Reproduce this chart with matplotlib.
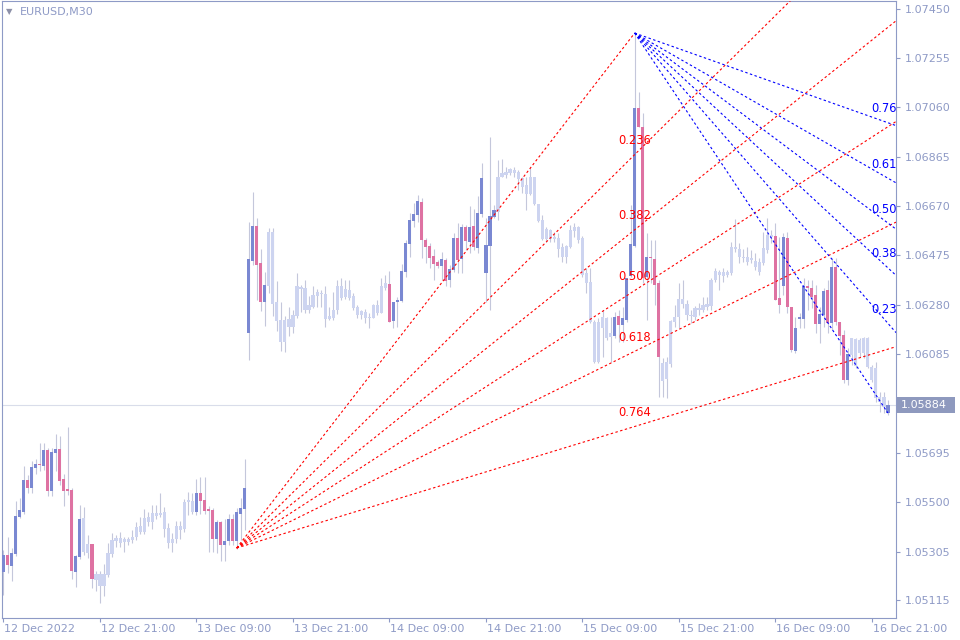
import numpy as np
import matplotlib
matplotlib.use("Agg")
import matplotlib.pyplot as plt
import matplotlib.transforms as mtransforms
from matplotlib.patches import Rectangle

symbol = "EURUSD,M30"

opens = [
 1.05224,1.05291,1.05248,1.05295,1.05441,1.05461,1.05588,1.05556,1.05635,1.05651,
 1.05643,1.05706,1.05544,1.05694,1.05710,1.05592,1.05552,1.05548,1.05224,1.05283,
 1.05303,1.05335,1.05335,1.05216,1.05169,1.05169,1.05212,1.05295,1.05347,1.05339,
 1.05354,1.05343,1.05350,1.05362,1.05382,1.05382,1.05422,1.05422,1.05445,1.05449,
 1.05461,1.05398,1.05339,1.05354,1.05390,1.05394,1.05501,1.05505,1.05461,1.05536,
 1.05509,1.05473,1.05469,1.05354,1.05422,1.05331,1.05347,1.05434,1.05347,1.05453,
 1.05473,1.06168,1.06453,1.06591,1.06445,1.06291,1.06354,1.06567,1.06291,1.06220,
 1.06133,1.06192,1.06192,1.06236,1.06342,1.06346,1.06259,1.06271,1.06314,1.06322,
 1.06322,1.06224,1.06228,1.06259,1.06354,1.06310,1.06338,1.06314,1.06271,1.06240,
 1.06251,1.06228,1.06228,1.06279,1.06247,1.06346,1.06362,1.06216,1.06291,1.06295,
 1.06409,1.06520,1.06611,1.06634,1.06686,1.06536,1.06512,1.06473,1.06449,1.06433,
 1.06457,1.06378,1.06417,1.06544,1.06461,1.06587,1.06528,1.06591,1.06504,1.06638,
 1.06405,1.06512,1.06626,1.06646,1.06784,1.06792,1.06800,1.06812,1.06804,1.06780,
 1.06753,1.06717,1.06784,1.06678,1.06615,1.06540,1.06575,1.06540,1.06544,1.06508,
 1.06469,1.06508,1.06571,1.06587,1.06544,1.06405,1.06370,1.06212,1.06054,1.06188,
 1.06228,1.06153,1.06157,1.06236,1.06200,1.06220,1.06394,1.06512,1.07057,1.06982,
 1.06390,1.06469,1.06461,1.06366,1.06050,1.05987,1.06046,1.06212,1.06232,1.06283,
 1.06283,1.06240,1.06232,1.06259,1.06259,1.06271,1.06275,1.06378,1.06397,1.06409,
 1.06397,1.06405,1.06500,1.06500,1.06469,1.06469,1.06457,1.06453,1.06449,1.06445,
 1.06496,1.06556,1.06552,1.06306,1.06354,1.06544,1.06271,1.06097,1.06224,1.06224,
 1.06354,1.06346,1.06318,1.06204,1.06240,1.06338,1.06208,1.06429,1.06212,1.06160,
 1.05983,1.06081,1.06145,1.06089,1.06149,1.06149,1.06034,1.06030,1.05915,1.05915,
 1.05852]

highs = [
 1.05311,1.05362,1.05319,1.05505,1.05517,1.05643,1.05607,1.05663,1.05671,1.05734,
 1.05734,1.05714,1.05714,1.05769,1.05761,1.05611,1.05797,1.05556,1.05291,1.05489,
 1.05481,1.05370,1.05335,1.05228,1.05228,1.05256,1.05339,1.05378,1.05370,1.05382,
 1.05362,1.05362,1.05390,1.05422,1.05441,1.05473,1.05461,1.05489,1.05489,1.05536,
 1.05481,1.05418,1.05378,1.05426,1.05426,1.05513,1.05540,1.05536,1.05592,1.05600,
 1.05600,1.05485,1.05477,1.05430,1.05426,1.05434,1.05453,1.05453,1.05477,1.05517,
 1.05671,1.06607,1.06725,1.06622,1.06500,1.06409,1.06583,1.06583,1.06374,1.06291,
 1.06236,1.06271,1.06259,1.06405,1.06358,1.06378,1.06314,1.06354,1.06342,1.06338,
 1.06354,1.06271,1.06330,1.06378,1.06386,1.06378,1.06378,1.06326,1.06279,1.06259,
 1.06263,1.06247,1.06283,1.06299,1.06386,1.06397,1.06413,1.06291,1.06310,1.06441,
 1.06536,1.06642,1.06682,1.06713,1.06702,1.06544,1.06524,1.06500,1.06457,1.06488,
 1.06465,1.06437,1.06563,1.06603,1.06599,1.06595,1.06670,1.06658,1.06709,1.06840,
 1.06622,1.06942,1.06674,1.06852,1.06856,1.06824,1.06820,1.06824,1.06812,1.06784,
 1.06784,1.06824,1.06784,1.06678,1.06634,1.06587,1.06579,1.06567,1.06563,1.06524,
 1.06516,1.06595,1.06603,1.06591,1.06552,1.06425,1.06425,1.06220,1.06228,1.06259,
 1.06232,1.06232,1.06251,1.06259,1.06271,1.06386,1.06674,1.07353,1.07120,1.07037,
 1.06563,1.06536,1.06536,1.06378,1.06070,1.06074,1.06220,1.06279,1.06366,1.06378,
 1.06299,1.06259,1.06275,1.06287,1.06310,1.06310,1.06386,1.06425,1.06417,1.06425,
 1.06417,1.06528,1.06619,1.06524,1.06500,1.06508,1.06496,1.06484,1.06465,1.06567,
 1.06622,1.06575,1.06603,1.06548,1.06563,1.06567,1.06271,1.06232,1.06247,1.06386,
 1.06378,1.06378,1.06358,1.06271,1.06346,1.06378,1.06465,1.06465,1.06212,1.06180,
 1.06109,1.06149,1.06149,1.06149,1.06153,1.06153,1.06042,1.06054,1.05935,1.05935,
 1.05904]

lows = [
 1.05133,1.05220,1.05189,1.05287,1.05437,1.05453,1.05536,1.05536,1.05611,1.05623,
 1.05627,1.05524,1.05524,1.05623,1.05568,1.05485,1.05528,1.05197,1.05165,1.05275,
 1.05291,1.05279,1.05161,1.05149,1.05102,1.05129,1.05204,1.05283,1.05323,1.05323,
 1.05303,1.05331,1.05339,1.05350,1.05374,1.05374,1.05406,1.05394,1.05434,1.05441,
 1.05362,1.05319,1.05303,1.05339,1.05354,1.05382,1.05449,1.05453,1.05449,1.05453,
 1.05453,1.05303,1.05303,1.05299,1.05268,1.05268,1.05331,1.05331,1.05315,1.05350,
 1.05390,1.06062,1.06437,1.06299,1.06255,1.06196,1.06326,1.06236,1.06176,1.06097,
 1.06093,1.06157,1.06168,1.06228,1.06251,1.06247,1.06247,1.06267,1.06271,1.06271,
 1.06192,1.06220,1.06220,1.06243,1.06299,1.06302,1.06299,1.06259,1.06228,1.06224,
 1.06208,1.06188,1.06228,1.06240,1.06247,1.06338,1.06212,1.06188,1.06192,1.06291,
 1.06390,1.06469,1.06587,1.06607,1.06465,1.06445,1.06425,1.06378,1.06425,1.06378,
 1.06354,1.06350,1.06409,1.06405,1.06405,1.06496,1.06484,1.06496,1.06484,1.06626,
 1.06291,1.06259,1.06622,1.06615,1.06784,1.06780,1.06792,1.06784,1.06733,1.06721,
 1.06654,1.06713,1.06674,1.06607,1.06536,1.06528,1.06528,1.06528,1.06469,1.06449,
 1.06445,1.06504,1.06548,1.06524,1.06390,1.06326,1.06208,1.06050,1.06050,1.06074,
 1.06141,1.06054,1.06149,1.06133,1.06133,1.06212,1.06390,1.06508,1.06982,1.06366,
 1.06220,1.06366,1.06279,1.05915,1.05915,1.05912,1.06034,1.06192,1.06188,1.06267,
 1.06220,1.06208,1.06220,1.06240,1.06251,1.06259,1.06259,1.06370,1.06338,1.06370,
 1.06390,1.06397,1.06488,1.06445,1.06449,1.06437,1.06445,1.06417,1.06397,1.06437,
 1.06484,1.06524,1.06299,1.06247,1.06318,1.06247,1.06093,1.06089,1.06188,1.06188,
 1.06259,1.06267,1.06168,1.06129,1.06192,1.06168,1.06180,1.06200,1.06081,1.05971,
 1.05963,1.06042,1.06030,1.06074,1.06070,1.06030,1.05975,1.05896,1.05856,1.05852,
 1.05844]

closes = [
 1.05291,1.05252,1.05299,1.05445,1.05469,1.05588,1.05556,1.05639,1.05651,1.05647,
 1.05706,1.05544,1.05698,1.05710,1.05584,1.05544,1.05544,1.05228,1.05287,1.05434,
 1.05437,1.05299,1.05197,1.05193,1.05216,1.05216,1.05299,1.05350,1.05358,1.05358,
 1.05343,1.05354,1.05362,1.05402,1.05406,1.05437,1.05441,1.05457,1.05457,1.05457,
 1.05394,1.05339,1.05354,1.05406,1.05406,1.05501,1.05509,1.05461,1.05536,1.05505,
 1.05465,1.05465,1.05354,1.05422,1.05331,1.05347,1.05434,1.05347,1.05461,1.05477,
 1.05556,1.06461,1.06591,1.06437,1.06291,1.06358,1.06567,1.06283,1.06216,1.06133,
 1.06220,1.06224,1.06240,1.06354,1.06350,1.06259,1.06279,1.06318,1.06330,1.06326,
 1.06224,1.06236,1.06259,1.06354,1.06306,1.06342,1.06306,1.06267,1.06240,1.06255,
 1.06228,1.06232,1.06279,1.06247,1.06354,1.06366,1.06212,1.06291,1.06299,1.06413,
 1.06524,1.06615,1.06638,1.06690,1.06536,1.06508,1.06465,1.06441,1.06433,1.06461,
 1.06374,1.06421,1.06544,1.06457,1.06587,1.06532,1.06587,1.06508,1.06642,1.06780,
 1.06516,1.06630,1.06654,1.06784,1.06800,1.06804,1.06816,1.06800,1.06776,1.06745,
 1.06717,1.06784,1.06678,1.06611,1.06540,1.06579,1.06540,1.06548,1.06500,1.06469,
 1.06512,1.06575,1.06587,1.06536,1.06397,1.06366,1.06212,1.06054,1.06212,1.06232,
 1.06149,1.06168,1.06232,1.06200,1.06228,1.06386,1.06520,1.07057,1.06982,1.06386,
 1.06469,1.06465,1.06358,1.06074,1.05979,1.06054,1.06216,1.06232,1.06302,1.06302,
 1.06240,1.06236,1.06267,1.06267,1.06279,1.06283,1.06378,1.06413,1.06409,1.06394,
 1.06409,1.06508,1.06508,1.06469,1.06465,1.06449,1.06465,1.06429,1.06409,1.06504,
 1.06556,1.06548,1.06299,1.06279,1.06548,1.06271,1.06101,1.06188,1.06232,1.06354,
 1.06346,1.06310,1.06204,1.06243,1.06334,1.06208,1.06429,1.06212,1.06157,1.05983,
 1.06085,1.06149,1.06038,1.06141,1.06089,1.06034,1.05983,1.05912,1.05896,1.05876,
 1.05884]

# u = bull (dark blue), d = bear (pink), l = light candle
styles = ("uduuuuduud" "uduudddduu" "lldlllllll" "llllllllll" "llllllllud"
          "ddduduuduu" "uuuddullll" "llllllllll" "llllllllll" "llllllduuu"
          "uuuudddddu" "duudududuu" "uuulllllll" "llllllllll" "llllllllll"
          "lluduuuudd" "udddllllll" "llllllllll" "llllllllll" "llddudduuu"
          "ddduududdd" "ulllllllll" "u")

x_tick_bars = [0, 24, 48, 72, 96, 120, 144, 168, 192, 216]
x_tick_labels = ["12 Dec 2022", "12 Dec 21:00", "13 Dec 09:00", "13 Dec 21:00",
                 "14 Dec 09:00", "14 Dec 21:00", "15 Dec 09:00", "15 Dec 21:00",
                 "16 Dec 09:00", "16 Dec 21:00"]
y_ticks = [1.07450, 1.07255, 1.07060, 1.06865, 1.06670, 1.06475, 1.06280,
           1.06085, 1.05695, 1.05500, 1.05305, 1.05115]
last_price = 1.05884

fan_levels = [0.236, 0.382, 0.500, 0.618, 0.764]
fan_red_points = [(58, 1.05319), (157, 1.07353)]
fan_blue_points = [(157, 1.07353), (220, 1.05852)]

BULL = "#7A88D2"
BEAR = "#DE72A2"
LIGHT = "#CDD4F0"
WICK = "#C4C7DB"
AXC = "#8E9AC6"
RED = "#FF0000"
BLUE = "#0000FF"

W, H = 960, 640
fig = plt.figure(figsize=(W / 100, H / 100), dpi=100)
ax = fig.add_axes([2 / W, 22 / H, 894 / W, 617 / H])
ax.set_xlim(-0.373, 222.0)
ax.set_ylim(1.050425, 1.074797)

n = len(opens)
xs = np.arange(n)
o = np.array(opens); c = np.array(closes)
h = np.array(highs); l = np.array(lows)
col_map = {"u": BULL, "d": BEAR, "l": LIGHT}
cols = [col_map[s] for s in styles[:n]]

ax.axhline(last_price, color="#D9DDEA", lw=0.8, zorder=1)
ax.vlines(xs, l, h, color=WICK, lw=0.8, zorder=2)
bottoms = np.minimum(o, c)
heights = np.maximum(np.abs(c - o), 0.00004)
ax.bar(xs, heights, bottom=bottoms, width=0.78, color=cols, linewidth=0, zorder=3)

dash = (0, (2.2, 2.2))
off = mtransforms.ScaledTranslation(0, 14 / 100, fig.dpi_scale_trans)


def draw_fan(p0, p1, color):
    (x0, y0), (x1, y1) = p0, p1
    ax.plot([x0, x1], [y0, y1], color=color, lw=0.8, ls=dash, zorder=4)
    xe = ax.get_xlim()[1]
    for lev in fan_levels:
        yl = y1 + lev * (y0 - y1)
        slope = (yl - y0) / (x1 - x0)
        ax.plot([x0, xe], [y0, y0 + slope * (xe - x0)], color=color, lw=0.8,
                ls=dash, zorder=4)
        ax.text(x1, yl, f"{lev:.3f}", color=color, fontsize=8.3, ha="center",
                va="center", transform=ax.transData + off, clip_on=True, zorder=5)


draw_fan(fan_red_points[0], fan_red_points[1], RED)
draw_fan(fan_blue_points[0], fan_blue_points[1], BLUE)

for sp in ax.spines.values():
    sp.set_color(AXC)
    sp.set_linewidth(0.8)

ax.yaxis.tick_right()
ax.set_yticks(y_ticks)
ax.set_yticklabels([f"{v:.5f}" for v in y_ticks])
ax.tick_params(axis="y", direction="out", length=3, width=0.8, color=AXC,
               labelcolor=AXC, labelsize=8, pad=3)
ax.set_xticks(x_tick_bars)
ax.set_xticklabels(x_tick_labels, ha="left")
ax.tick_params(axis="x", direction="out", length=3, width=0.8, color=AXC,
               labelcolor=AXC, labelsize=8, pad=1.5)
for t in ax.get_xticklabels():
    t.set_transform(t.get_transform() + mtransforms.ScaledTranslation(1 / 100, 0, fig.dpi_scale_trans))

# current price box
fig.canvas.draw()
ypx = ax.transData.transform((0, last_price))[1]
fig.patches.append(Rectangle((897, ypx - 8), 58, 16, transform=None,
                             facecolor="#8E99BE", edgecolor="none", figure=fig))
fig.text(901 / W, ypx / H, f"{last_price:.5f}", color="white", fontsize=8,
         va="center", ha="left")

fig.text(6 / W, 1 - 12 / H, "\u25BC", color="#8C90A8", fontsize=6, va="center")
fig.text(20 / W, 1 - 12 / H, symbol, color=AXC, fontsize=8, va="center")

fig.savefig("out.png", dpi=100)
